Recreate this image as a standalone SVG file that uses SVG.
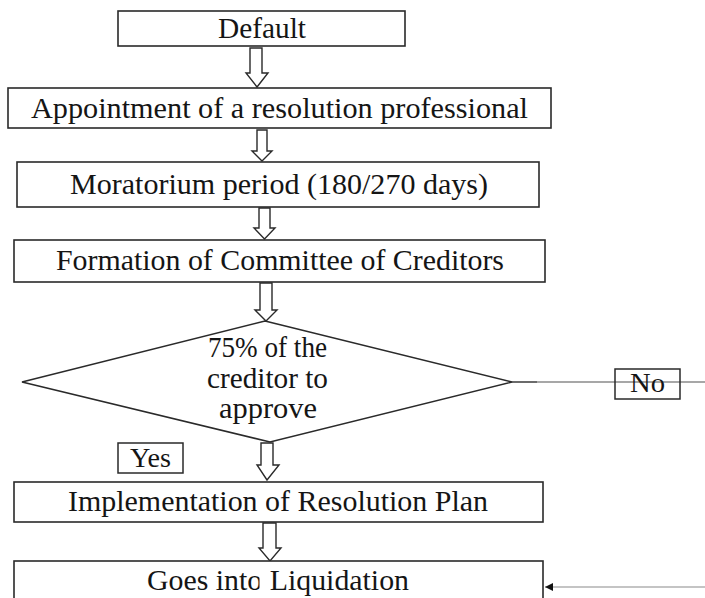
<svg xmlns="http://www.w3.org/2000/svg" width="705" height="598" viewBox="0 0 705 598">
  <defs>
    <style>
      .box { fill: #ffffff; stroke: #2a2a2a; stroke-width: 1.6; }
      .tag { fill: none; stroke: #2a2a2a; stroke-width: 1.5; }
      .lbl { font-family: "Liberation Serif", "DejaVu Serif", serif; font-size: 30px; fill: #151515; }
      .small { font-size: 28px; }
      .flow { fill: #ffffff; stroke: #2a2a2a; stroke-width: 1.4; stroke-linejoin: miter; }
      .knockout { fill: #ffffff; stroke: none; }
    </style>
    <marker id="tri" viewBox="0 0 10 10" refX="10" refY="5" markerWidth="8" markerHeight="8" markerUnits="userSpaceOnUse" orient="auto">
      <path d="M0,0 L10,5 L0,10 Z" fill="#111111"/>
    </marker>
  </defs>

  <rect width="705" height="598" fill="#ffffff"/>

  <!-- connectors -->
  <g id="connectors">
    <polygon class="flow" points="250,48 262,48 262,73 268,73 257,87 246,73 250,73"/>
    <polygon class="flow" points="257,130 267,130 267,151 272,151 262,161 252,151 257,151"/>
    <polygon class="flow" points="259,208 270,208 270,228 275,228 264.5,239 254,228 259,228"/>
    <polygon class="flow" points="260,283 272,283 272,310 277,310 266,321 255,310 260,310"/>
    <polygon class="flow" points="261,443 273,443 273,465 279,465 267,480 257,465 261,465"/>
    <polygon class="flow" points="263,523 276,523 276,548 281,548 270,561 259,548 263,548"/>
    <!-- "No" branch leaving the decision -->
    <line x1="512" y1="382" x2="537" y2="382" stroke="#3a3a3a" stroke-width="1.5"/>
    <line x1="537" y1="382" x2="705" y2="382" stroke="#8a8a8a" stroke-width="1.5"/>
    <!-- return into liquidation -->
    <line x1="705" y1="587" x2="545" y2="587" stroke="#b0b0b0" stroke-width="1.5" marker-end="url(#tri)"/>
  </g>

  <g id="default">
    <rect class="box" x="118" y="11" width="287" height="35"/>
    <text class="lbl" x="218" y="38" textLength="88" lengthAdjust="spacingAndGlyphs">Default</text>
  </g>

  <g id="appointment">
    <rect class="box" x="8" y="88" width="543" height="40"/>
    <text class="lbl" x="31" y="118" textLength="497" lengthAdjust="spacingAndGlyphs">Appointment of a resolution professional</text>
  </g>

  <g id="moratorium">
    <rect class="box" x="17" y="162" width="522" height="45"/>
    <text class="lbl" x="70" y="194" textLength="418" lengthAdjust="spacingAndGlyphs">Moratorium period (180/270 days)</text>
  </g>

  <g id="committee">
    <rect class="box" x="14" y="240" width="531" height="42"/>
    <text class="lbl" x="56" y="270" textLength="448" lengthAdjust="spacingAndGlyphs">Formation of Committee of Creditors</text>
  </g>

  <g id="decision">
    <polygon points="265,321 512,382 270,442 22,382" fill="none" stroke="#2a2a2a" stroke-width="1.5"/>
    <text class="lbl" x="208" y="357" textLength="119" lengthAdjust="spacingAndGlyphs">75% of the</text>
    <text class="lbl" x="207" y="388" textLength="121" lengthAdjust="spacingAndGlyphs">creditor to</text>
    <text class="lbl" x="219" y="418" textLength="98" lengthAdjust="spacingAndGlyphs">approve</text>
  </g>

  <g id="label-no">
    <rect class="tag" x="615" y="369" width="65" height="30"/>
    <text class="lbl small" x="630" y="392" textLength="35" lengthAdjust="spacingAndGlyphs">No</text>
  </g>

  <g id="label-yes">
    <rect class="tag" x="118" y="443" width="65" height="30"/>
    <text class="lbl small" x="130" y="467" textLength="41" lengthAdjust="spacingAndGlyphs">Yes</text>
  </g>

  <g id="implementation">
    <rect class="box" x="14" y="482" width="529" height="40"/>
    <text class="lbl" x="68" y="511" textLength="420" lengthAdjust="spacingAndGlyphs">Implementation of Resolution Plan</text>
    <rect class="knockout" x="259.5" y="486" width="6" height="31"/>
  </g>

  <g id="liquidation">
    <rect class="box" x="14" y="561" width="529" height="50"/>
    <text class="lbl" x="147" y="590" textLength="262" lengthAdjust="spacingAndGlyphs">Goes into Liquidation</text>
    <rect class="knockout" x="259.5" y="565" width="6" height="33"/>
  </g>
</svg>
